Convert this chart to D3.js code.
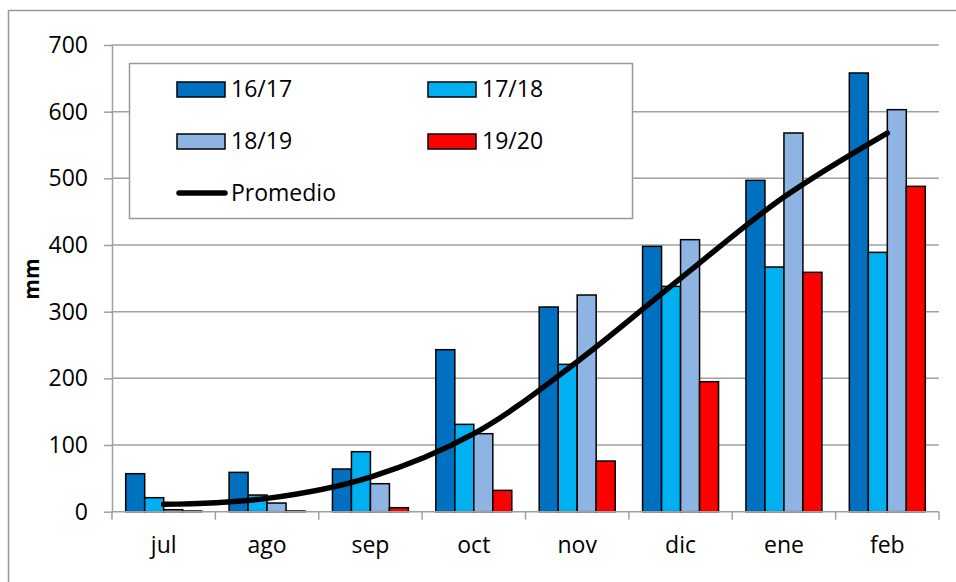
<!DOCTYPE html>
<html>
<head>
<meta charset="utf-8">
<script src="https://cdn.jsdelivr.net/npm/d3@7"></script>
<style>
  body { margin: 0; background: #fff; }
  text { font-family: "Open Sans", sans-serif; fill: #000; }
</style>
</head>
<body>
<script>
// months and seasons
const months = ["jul", "ago", "sep", "oct", "nov", "dic", "ene", "feb"]
const seasons = ["16/17", "17/18", "18/19", "19/20"]
const colors = ["#0070C0", "#00B0F0", "#8EB4E3", "#FF0000"]

// rainfall per season (mm)
const s1617 = [57, 59, 64, 243, 307, 398, 497, 658]
const s1718 = [21, 25, 90, 131, 221, 338, 367, 389]
const s1819 = [3, 13, 42, 117, 325, 408, 568, 603]
const s1920 = [1, 1, 6, 32, 76, 195, 359, 488]
const promedio = [11, 20, 52, 117, 225, 350, 472, 568]

const yTicks = [0, 100, 200, 300, 400, 500, 600, 700]

const series = [s1617, s1718, s1819, s1920]

const W = 956, H = 582
const svg = d3.select("body").append("svg")
    .attr("width", W)
    .attr("height", H)

// outer chart border
svg.append("rect")
    .attr("x", 8.5).attr("y", 10.5)
    .attr("width", 960).attr("height", 580)
    .attr("fill", "none")
    .attr("stroke", "#999").attr("stroke-width", 1.5)

const plotL = 112, plotR = 939, plotT = 45, plotB = 511.7

const y = d3.scaleLinear().domain([0, 700]).range([plotB, plotT])
const x = d3.scaleBand().domain(months).range([plotL, plotR])
    .paddingInner(0.265).paddingOuter(0.1325)
const xs = d3.scaleBand().domain(seasons).range([0, x.bandwidth()])
const xc = d3.scalePoint().domain(months).range([plotL, plotR]).padding(0.5)

// gridlines
svg.append("g").selectAll("line")
    .data(yTicks.filter(d => d > 0))
    .enter().append("line")
    .attr("x1", plotL).attr("x2", plotR)
    .attr("y1", d => y(d)).attr("y2", d => y(d))
    .attr("stroke", "#A0A0A0").attr("stroke-width", 1.5)

// y axis
const yAxis = svg.append("g")
    .attr("transform", `translate(${plotL},0)`)
    .call(d3.axisLeft(y).tickValues(yTicks).tickSize(8).tickSizeOuter(0).tickPadding(16))
yAxis.select(".domain").attr("stroke", "#A0A0A0").attr("stroke-width", 1.5)
yAxis.selectAll(".tick line").attr("stroke", "#A0A0A0").attr("stroke-width", 1.5)
yAxis.selectAll(".tick text").style("font-size", "23px").attr("font-family", null)

svg.append("text")
    .attr("transform", "translate(39,279) rotate(-90)")
    .attr("text-anchor", "middle")
    .style("font-size", "21px").style("font-weight", "bold")
    .text("mm")

// legend box (sits over gridlines)
const lg = svg.append("g")
lg.append("rect")
    .attr("x", 129.5).attr("y", 63.5)
    .attr("width", 503).attr("height", 155)
    .attr("fill", "#fff").attr("stroke", "#999").attr("stroke-width", 1.5)

const legendItems = seasons.map((s, i) => ({ name: s, color: colors[i], col: i % 2, row: Math.floor(i / 2) }))
const colX = [177, 428], rowY = [89, 141, 193]
legendItems.forEach(d => {
    lg.append("rect")
        .attr("x", colX[d.col]).attr("y", rowY[d.row] - 7)
        .attr("width", 48).attr("height", 15)
        .attr("fill", d.color).attr("stroke", "#000").attr("stroke-width", 1.5)
    lg.append("text")
        .attr("x", colX[d.col] + 54).attr("y", rowY[d.row] + 8)
        .style("font-size", "23px")
        .text(d.name)
})
lg.append("line")
    .attr("x1", colX[0] + 2).attr("x2", colX[0] + 48)
    .attr("y1", rowY[2]).attr("y2", rowY[2])
    .attr("stroke", "#000").attr("stroke-width", 5.5).attr("stroke-linecap", "round")
lg.append("text")
    .attr("x", colX[0] + 54).attr("y", rowY[2] + 8)
    .style("font-size", "23px")
    .text("Promedio")

// bars
const groups = svg.append("g").selectAll("g")
    .data(months)
    .enter().append("g")
    .attr("transform", d => `translate(${x(d)},0)`)

groups.selectAll("rect")
    .data((m, mi) => seasons.map((s, si) => ({ s, v: series[si][mi], c: colors[si] })))
    .enter().append("rect")
    .attr("x", d => xs(d.s))
    .attr("y", d => y(d.v))
    .attr("width", xs.bandwidth())
    .attr("height", d => plotB - y(d.v))
    .attr("fill", d => d.c)
    .attr("stroke", "#000").attr("stroke-width", 1.5)

// x axis
const xAxis = svg.append("g")
    .attr("transform", `translate(0,${plotB})`)
    .call(d3.axisBottom(x).tickSize(0).tickPadding(25))
xAxis.select(".domain").remove()
xAxis.selectAll(".tick text").style("font-size", "23px").attr("font-family", null)
svg.append("line")
    .attr("x1", plotL).attr("x2", plotR)
    .attr("y1", plotB).attr("y2", plotB)
    .attr("stroke", "#A0A0A0").attr("stroke-width", 1.5)
svg.append("g").selectAll("line")
    .data(d3.range(months.length + 1))
    .enter().append("line")
    .attr("x1", i => plotL + i * x.step()).attr("x2", i => plotL + i * x.step())
    .attr("y1", plotB).attr("y2", plotB + 8)
    .attr("stroke", "#A0A0A0").attr("stroke-width", 1.5)

// average line
const line = d3.line()
    .x((d, i) => xc(months[i]))
    .y(d => y(d))
    .curve(d3.curveCatmullRom.alpha(0.5))
svg.append("path")
    .datum(promedio)
    .attr("d", line)
    .attr("fill", "none")
    .attr("stroke", "#000").attr("stroke-width", 5.5).attr("stroke-linecap", "round")
</script>
</body>
</html>
